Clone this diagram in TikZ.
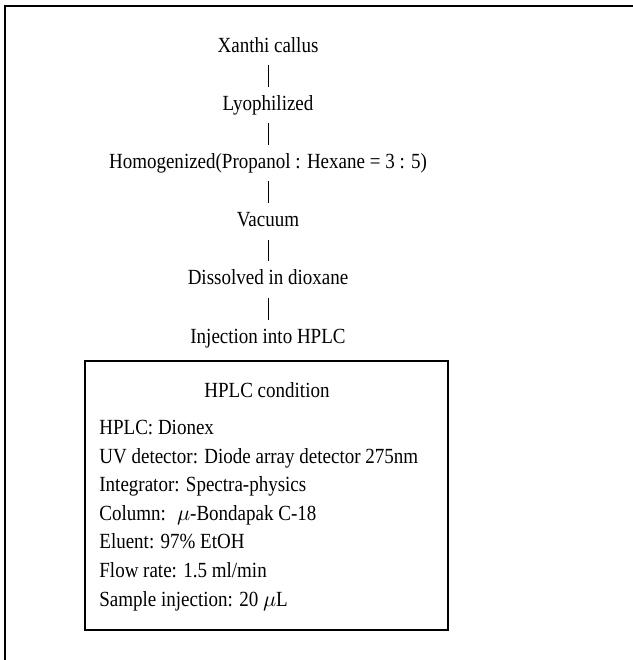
\documentclass[tikz,border=0pt]{standalone}
\usepackage{fontspec}
\setmainfont{Liberation Serif}[FakeStretch=0.88]
\usetikzlibrary{positioning}
\tikzset{
  stepnode/.style={anchor=base,inner xsep=2pt,inner ysep=4pt,
    text height=7.5pt,text depth=2.3pt,font=\fontsize{10.8}{13}\selectfont},
  stepline/.style={line width=0.5pt},
  condbox/.style={draw,line width=0.8pt,minimum width=181.5pt,
    minimum height=134.5pt,inner sep=0pt},
  condline/.style={anchor=base west,inner sep=0pt,
    font=\fontsize{10.8}{13}\selectfont},
  framebox/.style={line width=1pt}
}
\begin{document}
\begin{tikzpicture}[x=0.5pt,y=-0.5pt]
  \useasboundingbox (0,0) rectangle (633,660);
  % outer frame (only top and left edges show)
  \draw[framebox] (4.5,660) |- (633,6);
  % preparation steps
  \node[stepnode] (callus) at (268,52) {Xanthi callus};
  \node[stepnode,below=10.9pt of callus] (lyo) {Lyophilized};
  \node[stepnode,below=10.9pt of lyo] (homog)
    {Homogenized(Propanol : Hexane = 3 : 5)};
  \node[stepnode,below=10.9pt of homog] (vac) {Vacuum};
  \node[stepnode,below=10.9pt of vac] (diox) {Dissolved in dioxane};
  \node[stepnode,below=10.9pt of diox] (inj) {Injection into HPLC};
  \draw[stepline] (callus) -- (lyo);
  \draw[stepline] (lyo) -- (homog);
  \draw[stepline] (homog) -- (vac);
  \draw[stepline] (vac) -- (diox);
  \draw[stepline] (diox) -- (inj);
  % HPLC condition box
  \node[condbox] (cond) at (266.5,495.5) {};
  \node[condline,anchor=base] (condtitle) at (267,397) {HPLC condition};
  \node[condline] (hplc) at (99,434) {HPLC: Dionex};
  \node[condline] (uv) at (99,463) {UV detector: Diode array detector 275nm};
  \node[condline] (integ) at (99,491.5) {Integrator: Spectra-physics};
  \node[condline] (column) at (99,520) {Column:~ $\mu$-Bondapak C-18};
  \node[condline] (eluent) at (99,548.5) {Eluent: 97\% EtOH};
  \node[condline] (flow) at (99,577) {Flow rate: 1.5 ml/min};
  \node[condline] (sample) at (99,606) {Sample injection: 20 $\mu$L};
\end{tikzpicture}
\end{document}
